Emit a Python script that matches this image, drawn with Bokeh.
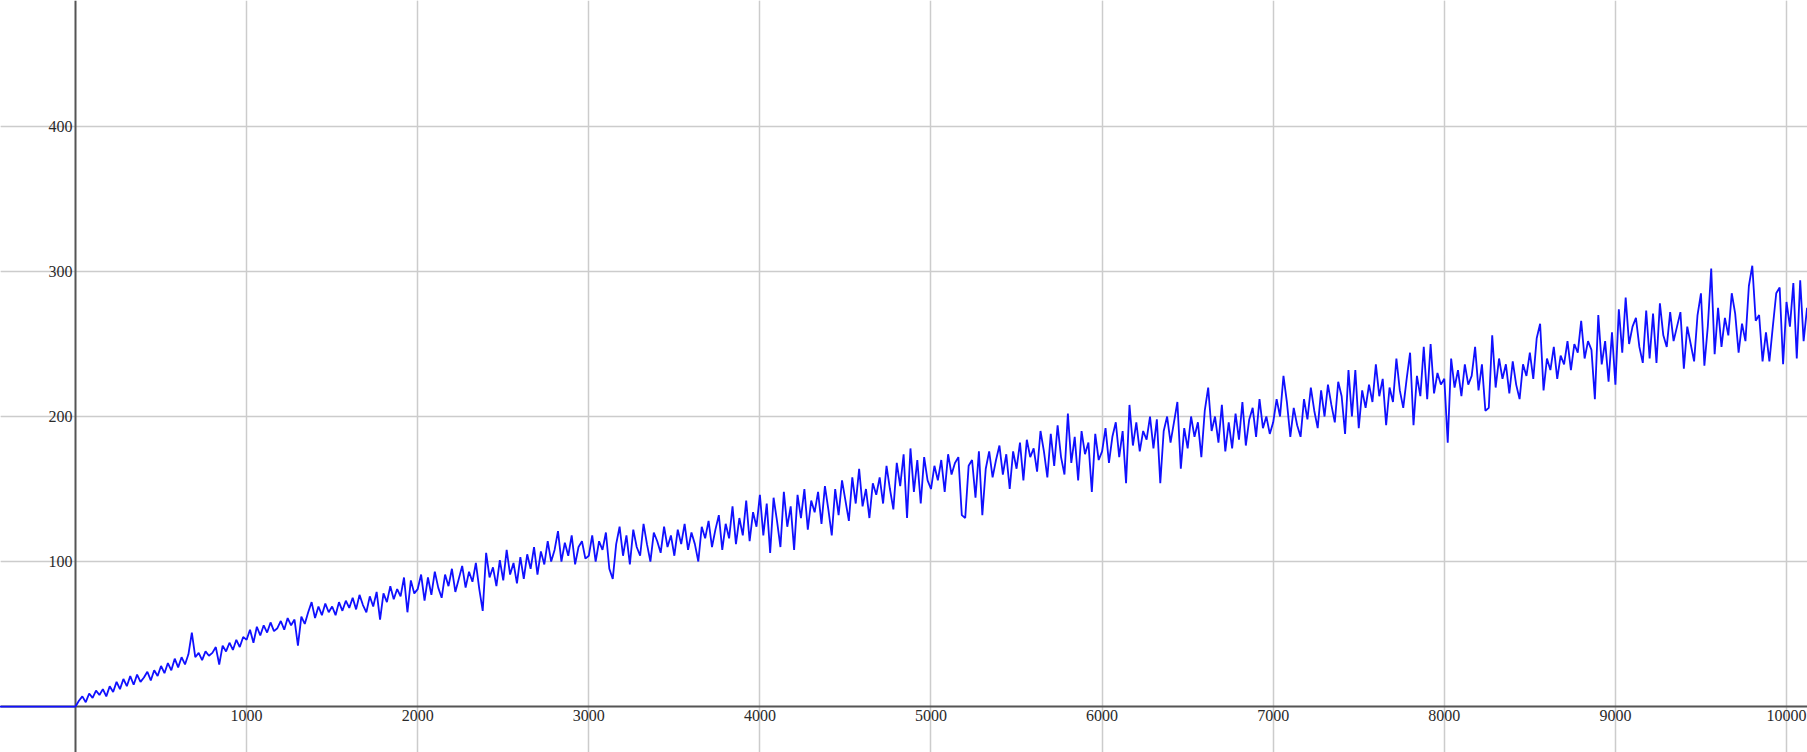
from bokeh.plotting import figure
from bokeh.models import LinearAxis, FixedTicker, Range1d, ColumnDataSource, Grid
from bokeh.embed import file_html
from bokeh.resources import INLINE

# ---- data -------------------------------------------------------------
x_start = [-450]
y_start = [0]
step = 20
values = [
    # 0 - 980
    0, 4, 7, 3, 9, 6, 11, 8, 12, 7, 14, 10, 17, 12, 19, 14, 21, 15, 22, 17,
    20, 24, 18, 25, 21, 28, 23, 30, 25, 33, 27, 34, 29, 36, 51, 34, 37, 32, 38, 35,
    37, 41, 29, 42, 38, 44, 39, 46, 41, 48,
    # 1000 - 1980
    46, 53, 44, 55, 49, 56, 51, 58, 52, 54, 59, 53, 61, 56, 60, 42, 62, 57, 65, 72,
    61, 69, 63, 71, 65, 69, 63, 72, 66, 73, 68, 75, 67, 77, 70, 65, 76, 69, 79, 60,
    78, 72, 83, 74, 81, 76, 89, 65, 87, 78,
    # 2000 - 2980
    81, 91, 73, 89, 77, 93, 82, 75, 91, 83, 95, 79, 88, 97, 82, 93, 86, 99, 81, 66,
    106, 89, 96, 83, 101, 87, 108, 91, 99, 85, 103, 88, 105, 95, 110, 91, 107, 98, 114, 100,
    108, 121, 100, 113, 104, 118, 98, 110, 114, 102,
    # 3000 - 3980
    104, 118, 100, 114, 108, 120, 95, 88, 112, 124, 104, 118, 98, 122, 110, 104, 126, 112, 100, 120,
    114, 106, 124, 110, 118, 104, 122, 112, 126, 108, 120, 112, 100, 124, 116, 128, 110, 122, 132, 108,
    126, 116, 138, 112, 130, 118, 142, 114, 134, 124,
    # 4000 - 4980
    146, 118, 140, 106, 144, 128, 110, 148, 124, 138, 108, 146, 130, 150, 122, 142, 134, 148, 126, 152,
    136, 118, 150, 132, 156, 142, 128, 158, 140, 164, 138, 150, 130, 154, 146, 158, 140, 166, 150, 136,
    168, 152, 174, 130, 178, 148, 170, 140, 172, 156,
    # 5000 - 5980
    150, 166, 156, 170, 148, 174, 160, 168, 172, 132, 130, 166, 170, 144, 176, 132, 164, 176, 158, 170,
    180, 160, 174, 150, 176, 164, 182, 156, 184, 172, 178, 162, 190, 176, 158, 188, 166, 194, 172, 160,
    202, 168, 186, 156, 190, 174, 182, 148, 188, 170,
    # 6000 - 6980
    176, 192, 168, 186, 196, 172, 190, 154, 208, 180, 196, 176, 190, 184, 200, 178, 198, 154, 190, 200,
    182, 196, 210, 164, 192, 178, 200, 186, 196, 172, 204, 220, 190, 200, 182, 208, 176, 196, 178, 202,
    184, 210, 180, 198, 206, 186, 212, 192, 200, 188,
    # 7000 - 7980
    196, 212, 200, 228, 210, 186, 206, 194, 186, 212, 198, 220, 204, 192, 218, 200, 222, 208, 196, 224,
    214, 188, 232, 200, 232, 192, 218, 206, 222, 210, 236, 214, 226, 194, 220, 210, 240, 218, 206, 226,
    244, 194, 228, 214, 248, 212, 250, 216, 230, 222,
    # 8000 - 8980
    226, 182, 240, 220, 232, 214, 236, 222, 228, 248, 218, 236, 204, 206, 256, 220, 240, 226, 236, 216,
    238, 222, 212, 236, 228, 244, 226, 254, 264, 218, 240, 232, 248, 226, 242, 236, 252, 232, 250, 244,
    266, 240, 252, 246, 212, 270, 236, 252, 224, 258,
    # 9000 - 9980
    222, 274, 244, 282, 250, 262, 268, 248, 237, 273, 240, 271, 237, 278, 256, 248, 272, 252, 262, 272,
    233, 262, 250, 238, 270, 285, 235, 262, 302, 243, 275, 248, 268, 256, 285, 271, 244, 264, 252, 290,
    304, 266, 270, 238, 258, 238, 262, 285, 289, 236,
    # 10000 - 10120
    279, 262, 292, 240, 294, 252, 275,
]
xs = x_start + [i * step for i in range(len(values))]
ys = y_start + values

x_ticks = [1000, 2000, 3000, 4000, 5000, 6000, 7000, 8000, 9000, 10000]
y_ticks = [100, 200, 300, 400]

# ---- figure -----------------------------------------------------------
W, H = 1807, 752
p = figure(width=W, height=H, output_backend="svg", toolbar_location=None,
           x_axis_location=None, y_axis_location=None,
           x_range=Range1d(-438.3, 10122.7), y_range=Range1d(-31.7, 486.9),
           min_border=0)
p.outline_line_color = None
p.background_fill_color = "white"
p.border_fill_color = "white"

font = "Liberation Serif"
xaxis = LinearAxis(ticker=FixedTicker(ticks=x_ticks), fixed_location=0)
yaxis = LinearAxis(ticker=FixedTicker(ticks=y_ticks), fixed_location=0)
for ax in (xaxis, yaxis):
    ax.axis_line_color = "#555555"
    ax.axis_line_width = 2
    ax.major_tick_line_color = None
    ax.minor_tick_line_color = None
    ax.major_tick_out = 0
    ax.major_tick_in = 0
    ax.major_label_text_font = font
    ax.major_label_text_font_size = "16px"
    ax.major_label_text_color = "#2a2a2a"
    ax.major_label_standoff = 3
p.add_layout(xaxis, "below")
p.add_layout(yaxis, "left")

gx = Grid(dimension=0, ticker=FixedTicker(ticks=x_ticks))
gy = Grid(dimension=1, ticker=FixedTicker(ticks=y_ticks))
for g in (gx, gy):
    g.grid_line_color = "#cccccc"
    g.grid_line_width = 1.5
p.add_layout(gx, "center")
p.add_layout(gy, "center")

src = ColumnDataSource(dict(x=xs, y=ys))
r = p.line("x", "y", source=src, line_color="#1010ff", line_width=1.8)
r.level = "overlay"

open("out.html", "w").write(file_html(p, INLINE))
